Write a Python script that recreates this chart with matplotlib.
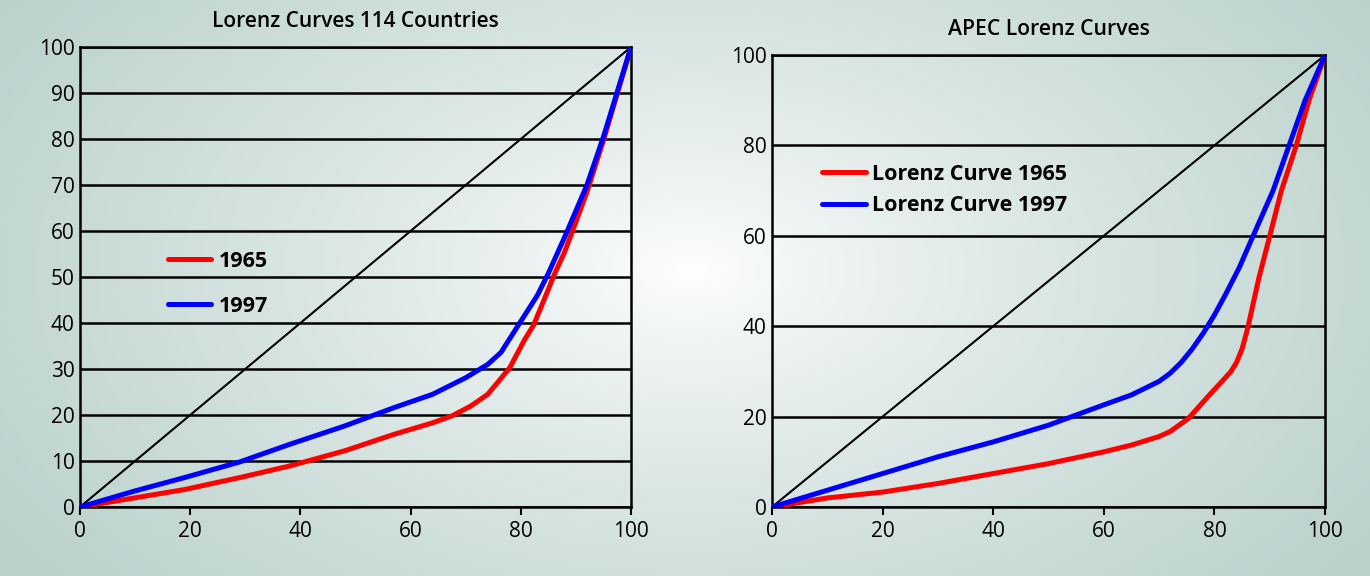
import numpy as np
import matplotlib
matplotlib.use("Agg")
import matplotlib.pyplot as plt

plt.rcParams['font.family'] = ['Open Sans', 'DejaVu Sans']

# population share (%) vs income share (%)
world_x_1965 = [0, 10, 19, 29, 38, 48, 57, 64, 67.5, 71, 74, 76.5, 78, 80.7, 82.3, 84, 86, 88, 90, 92, 95, 100]
world_y_1965 = [0, 2.0, 3.8, 6.4, 8.9, 12.2, 15.8, 18.3, 19.8, 22.0, 24.5, 28.1, 30.3, 36.4, 39.5, 44.4, 50.3, 55.6, 62.0, 68.5, 79.7, 100]
world_x_1997 = [0, 10, 19, 29, 38, 48, 57, 64, 70, 74, 76.4, 79.8, 83, 85, 88, 90, 92, 95, 100]
world_y_1997 = [0, 3.5, 6.4, 9.8, 13.6, 17.6, 21.6, 24.5, 28.1, 31.0, 33.6, 40.0, 46.0, 50.8, 58.8, 64.4, 70.0, 80.5, 100]

apec_x_1965 = [0, 10, 20, 30, 40, 50, 60, 65, 70, 72, 75.3, 79.1, 81.6, 83, 84, 85, 86, 87, 88, 90, 92.1, 94.8, 97.1, 100]
apec_y_1965 = [0, 2.0, 3.3, 5.2, 7.4, 9.6, 12.2, 13.7, 15.6, 16.7, 19.6, 24.8, 28.1, 30.0, 32.0, 35.0, 39.5, 45.0, 50.5, 60.0, 70.0, 80.0, 90.0, 100]
apec_x_1997 = [0, 10, 20, 30, 40, 50, 60, 65, 70, 72, 74, 76, 78, 80, 82, 84.5, 87, 90.6, 93.5, 96.4, 100]
apec_y_1997 = [0, 3.7, 7.4, 11.1, 14.4, 18.1, 22.6, 24.8, 27.8, 29.6, 32.0, 35.0, 38.5, 42.5, 47.0, 53.0, 60.0, 70.0, 80.0, 90.0, 100]

equality = [0, 100]
x_ticks = [0, 20, 40, 60, 80, 100]
world_y_ticks = list(range(0, 101, 10))
apec_y_ticks = list(range(0, 101, 20))

fig = plt.figure(figsize=(13.7, 5.76), dpi=100)

# radial background gradient
bg = fig.add_axes([0, 0, 1, 1], zorder=-10)
h, w = 576, 1370
yy, xx = np.mgrid[0:h, 0:w]
r = np.sqrt(((xx - 690) / 720.0) ** 2 + ((yy - 270) / 430.0) ** 2)
t = np.clip(r / 1.15, 0, 1) ** 0.8
edge = np.array([0.73, 0.82, 0.80])
img = (1 - t[..., None]) * np.array([1.0, 1.0, 1.0]) + t[..., None] * edge
bg.imshow(img, aspect='auto', extent=[0, 1, 0, 1])
bg.axis('off')


def style(ax, yticks, title, title_size):
    ax.set_facecolor('none')
    ax.set_xlim(0, 100)
    ax.set_ylim(0, 100)
    ax.set_xticks(x_ticks)
    ax.set_yticks(yticks)
    ax.grid(axis='y', color='black', linewidth=1.8)
    ax.set_axisbelow(True)
    for s in ax.spines.values():
        s.set_linewidth(1.8)
    ax.tick_params(axis='x', length=6, width=1.5, pad=4, labelsize=15)
    ax.tick_params(axis='y', length=0, pad=4, labelsize=15)
    ax.set_title(title, fontsize=title_size, fontweight='semibold', pad=14.5)
    ax.plot(equality, equality, color='black', linewidth=1.5, zorder=3)


def curve(ax, x, y, color, label, z):
    ax.plot(x, y, color=color, linewidth=3.6, label=label, zorder=z,
            solid_joinstyle='round', solid_capstyle='round')


ax1 = fig.add_axes([0.0584, 0.1198, 0.4022, 0.7986])
style(ax1, world_y_ticks, 'Lorenz Curves 114 Countries', 15)
curve(ax1, world_x_1965, world_y_1965, '#ff0000', '1965', 4)
curve(ax1, world_x_1997, world_y_1997, '#0000ff', '1997', 5)
ax1.legend(loc='upper left', bbox_to_anchor=(0.16, 0.557), frameon=False, borderpad=0,
           borderaxespad=0, handlelength=2.0, handletextpad=0.35, labelspacing=1.12,
           prop={'size': 15.5, 'weight': 'bold'})

ax2 = fig.add_axes([0.5635, 0.1198, 0.4037, 0.7847])
style(ax2, apec_y_ticks, 'APEC Lorenz Curves', 15.2)
curve(ax2, apec_x_1965, apec_y_1965, '#ff0000', 'Lorenz Curve 1965', 4)
curve(ax2, apec_x_1997, apec_y_1997, '#0000ff', 'Lorenz Curve 1997', 5)
ax2.legend(loc='upper left', bbox_to_anchor=(0.09, 0.759), frameon=False, borderpad=0,
           borderaxespad=0, handlelength=2.05, handletextpad=0.3, labelspacing=0.47,
           prop={'size': 15.5, 'weight': 'bold'})

fig.savefig('out.png', dpi=100)
